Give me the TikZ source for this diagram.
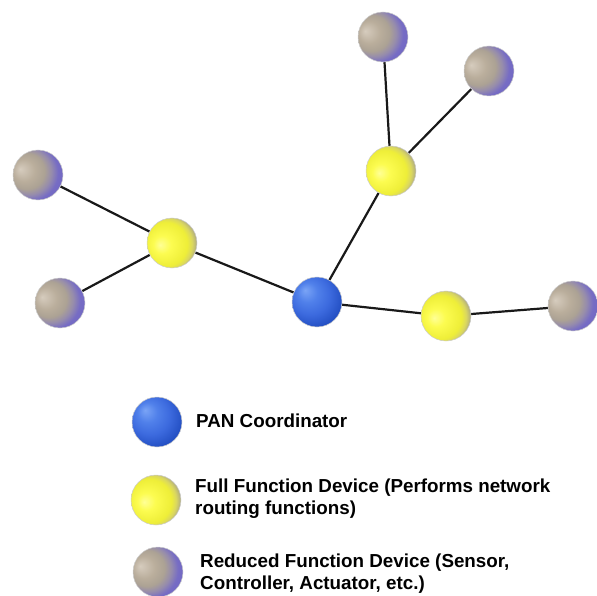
\documentclass[tikz,border=0pt]{standalone}
\usepackage{fontspec}
\setmainfont{Liberation Sans}
\usetikzlibrary{positioning,backgrounds}

% ball shadings for the three device kinds
\pgfdeclareradialshading{panball}{\pgfpoint{-12bp}{12bp}}{%
  color(0bp)=(rgb,255:red,122;green,164;blue,246);
  color(10bp)=(rgb,255:red,80;green,128;blue,234);
  color(20bp)=(rgb,255:red,60;green,106;blue,222);
  color(30bp)=(rgb,255:red,36;green,80;blue,196);
  color(50bp)=(rgb,255:red,36;green,80;blue,196)}
\pgfdeclareradialshading{ffdball}{\pgfpoint{-12bp}{-2bp}}{%
  color(0bp)=(rgb,255:red,255;green,255;blue,150);
  color(9bp)=(rgb,255:red,252;green,252;blue,80);
  color(22bp)=(rgb,255:red,238;green,238;blue,56);
  color(26bp)=(rgb,255:red,218;green,215;blue,96);
  color(31bp)=(rgb,255:red,160;green,156;blue,140);
  color(50bp)=(rgb,255:red,160;green,156;blue,140)}
\pgfdeclareradialshading{rfdball}{\pgfpoint{-18bp}{6bp}}{%
  color(0bp)=(rgb,255:red,214;green,204;blue,190);
  color(11bp)=(rgb,255:red,186;green,174;blue,156);
  color(18bp)=(rgb,255:red,172;green,162;blue,148);
  color(23bp)=(rgb,255:red,150;green,140;blue,172);
  color(28bp)=(rgb,255:red,118;green,108;blue,196);
  color(50bp)=(rgb,255:red,96;green,88;blue,200)}

\tikzset{
    dev/.style={circle, minimum size=50pt, inner sep=0pt, draw=black!20, line width=0.5pt},
    pan/.style={dev, shading=panball},
    ffd/.style={dev, shading=ffdball},
    rfd/.style={dev, shading=rfdball},
    link/.style={line width=2.2pt, draw=black!90},
    legend/.style={anchor=base west, inner sep=0pt, align=left,
                   font=\bfseries\fontsize{18.8}{22}\selectfont}
}

\begin{document}
\begin{tikzpicture}[x=1pt, y=-1pt]
    \useasboundingbox (0,0) rectangle (597,596);

    % Coordinator
    \node[pan] (pan) at (317,302) {};

    % Full function devices
    \foreach \i/\p in {up/{391,171}, left/{172,243}, right/{446,316}} {
        \node[ffd] (ffd\i) at (\p) {};
    }

    % Reduced function devices
    \foreach \i/\p in {top/{383,37}, topright/{489,71}, left/{38,175},
            lowleft/{60,303}, right/{573,306}} {
        \node[rfd] (rfd\i) at (\p) {};
    }

    % Links
    \begin{scope}[on background layer]
        \draw[link] (rfdtop) -- (ffdup);
        \draw[link] (rfdtopright) -- (ffdup);
        \draw[link] (ffdup) -- (pan);
        \draw[link] (rfdleft) -- (ffdleft);
        \draw[link] (rfdlowleft) -- (ffdleft);
        \draw[link] (ffdleft) -- (pan);
        \draw[link] (pan) -- (ffdright);
        \draw[link] (ffdright) -- (rfdright);
    \end{scope}

    % Legend (base of a two-line node sits on its last line)
    \node[pan] (keypan) at (157,422) {};
    \node[legend] (txtpan) at (196,427) {PAN Coordinator};
    \node[ffd] (keyffd) at (156,500) {};
    \node[legend] (txtffd) at (195,514) {Full Function Device (Performs network\\routing functions)};
    \node[rfd] (keyrfd) at (158,572) {};
    \node[legend] (txtrfd) at (200,589) {Reduced Function Device (Sensor,\\Controller, Actuator, etc.)};
\end{tikzpicture}
\end{document}
